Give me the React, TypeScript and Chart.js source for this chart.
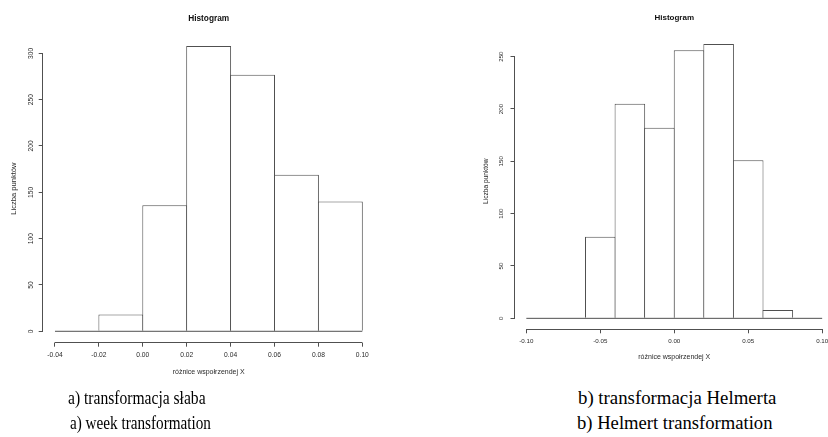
import React, { useEffect, useRef } from "react";
import { Chart, registerables } from "chart.js";

Chart.register(...registerables);

// ---------- data ----------
const leftBreaks = [-0.04, -0.02, 0.0, 0.02, 0.04, 0.06, 0.08, 0.1];
const leftCounts = [0, 18, 136, 308, 277, 169, 140];
const leftXTicks = [-0.04, -0.02, 0.0, 0.02, 0.04, 0.06, 0.08, 0.1];
const leftYTicks = [0, 50, 100, 150, 200, 250, 300];

const rightBreaks = [-0.1, -0.08, -0.06, -0.04, -0.02, 0.0, 0.02, 0.04, 0.06, 0.08, 0.1];
const rightCounts = [0, 0, 78, 205, 182, 256, 262, 151, 8, 0];
const rightXTicks = [-0.1, -0.05, 0.0, 0.05, 0.1];
const rightYTicks = [0, 50, 100, 150, 200, 250];

const chartTitle = "Histogram";
const xAxisTitle = "różnice wspołrzendej X";
const yAxisTitle = "Liczba punktów";

const captionsLeft = ["a) transformacja słaba", "a) week transformation"];
const captionsRight = ["b) transformacja Helmerta", "b) Helmert transformation"];

// ---------- style ----------
const LINE = "#505050";
const TEXT = "#2a2a2a";
const SANS = "'Liberation Sans', Arial, sans-serif";

type Area = { left: number; right: number; top: number; bottom: number };
type HistProps = {
  breaks: number[];
  counts: number[];
  xTicks: number[];
  yTicks: number[];
  width: number;
  height: number;
  area: Area;
  titleSize: number;
  titleCenterY: number;
  tickSize: number;
  xTitleSize: number;
  yTitleSize: number;
  xTickCenterY: number;
  yTickCenterX: number;
  xTitleCenterY: number;
  yTitleCenterX: number;
  left: number;
};

const axisLinesPlugin = {
  id: "rAxisLines",
  afterDraw(chart: any, _args: any, opts: any) {
    const { ctx, chartArea } = chart;
    const xs = chart.scales.x;
    const ys = chart.scales.y;
    const align = (p: number) => Math.round(p - 0.5) + 0.5;
    const xt = opts.xTicks as number[];
    const yt = opts.yTicks as number[];
    ctx.save();
    ctx.strokeStyle = LINE;
    ctx.lineWidth = 1;
    ctx.beginPath();
    const yb = align(chartArea.bottom);
    ctx.moveTo(align(xs.getPixelForValue(xt[0])), yb);
    ctx.lineTo(align(xs.getPixelForValue(xt[xt.length - 1])), yb);
    const xl = align(chartArea.left);
    ctx.moveTo(xl, align(ys.getPixelForValue(yt[0])));
    ctx.lineTo(xl, align(ys.getPixelForValue(yt[yt.length - 1])));
    ctx.stroke();
    ctx.restore();
  },
};

function Histogram(p: HistProps) {
  const ref = useRef<HTMLCanvasElement | null>(null);
  useEffect(() => {
    if (!ref.current) return;
    const { breaks, counts, area } = p;
    const n = breaks.length - 1;
    const xr = breaks[n] - breaks[0];
    const xmin = breaks[0] - 0.04 * xr;
    const xmax = breaks[n] + 0.04 * xr;
    const ymaxData = Math.max(...counts);
    const ymin = -0.04 * ymaxData;
    const ymax = 1.04 * ymaxData;
    const binPx = ((area.right - area.left) * (breaks[1] - breaks[0])) / (xmax - xmin);

    const titleLH = p.titleSize * 1.2;
    const titlePadTop = p.titleCenterY - titleLH / 2;
    const titlePadBottom = area.top - titlePadTop - titleLH;

    const xLH = p.xTitleSize * 1.2;
    const yLH = p.yTitleSize * 1.2;
    const xScaleHeight = p.xTitleCenterY - area.bottom + xLH / 2;
    const tickLH = p.tickSize * 1.2;
    const xTickPad = p.xTickCenterY - area.bottom - 4 - tickLH / 2;
    const widest = p.tickSize * 0.556 * 3;
    const yTickPad = area.left - p.yTickCenterX - 4 - widest / 2;

    const chart = new Chart(ref.current, {
      type: "bar",
      data: {
        datasets: [
          {
            type: "line",
            data: [
              { x: breaks[0], y: 0 },
              { x: breaks[n], y: 0 },
            ],
            borderColor: LINE,
            borderWidth: 1,
            pointRadius: 0,
            fill: false,
            order: 0,
          } as any,
          {
            type: "bar",
            data: counts.map((c, i) => ({ x: (breaks[i] + breaks[i + 1]) / 2, y: c })),
            backgroundColor: "#ffffff",
            borderColor: LINE,
            borderWidth: 1,
            borderSkipped: "start",
            barPercentage: 1 + 1 / binPx,
            categoryPercentage: 1,
            inflateAmount: 0,
            order: 1,
          } as any,
        ],
      },
      options: {
        responsive: false,
        animation: false,
        devicePixelRatio: 1,
        layout: {
          padding: {
            left: 0,
            right: p.width - area.right,
            top: 0,
            bottom: p.height - area.bottom - xScaleHeight,
          },
        },
        plugins: {
          legend: { display: false },
          tooltip: { enabled: false },
          title: {
            display: true,
            text: chartTitle,
            color: "#111",
            fullSize: false,
            font: { family: SANS, size: p.titleSize, weight: "bold", lineHeight: 1.2 },
            padding: { top: titlePadTop, bottom: titlePadBottom },
          },
          rAxisLines: { xTicks: p.xTicks, yTicks: p.yTicks },
        } as any,
        scales: {
          x: {
            type: "linear",
            min: xmin,
            max: xmax,
            offset: false,
            afterBuildTicks: (s: any) => {
              s.ticks = p.xTicks.map((v) => ({ value: v }));
            },
            afterFit: (s: any) => {
              s.height = xScaleHeight;
            },
            ticks: {
              autoSkip: false,
              maxRotation: 0,
              minRotation: 0,
              padding: xTickPad,
              color: TEXT,
              font: { family: SANS, size: p.tickSize, lineHeight: 1.2 },
              callback: (v: any) => Number(v).toFixed(2),
            },
            grid: {
              display: true,
              offset: false,
              drawOnChartArea: false,
              drawTicks: true,
              tickLength: 4,
              color: LINE,
              lineWidth: 1,
            },
            border: { display: false },
            title: {
              display: true,
              text: xAxisTitle,
              color: TEXT,
              font: { family: SANS, size: p.xTitleSize, lineHeight: 1.2 },
              padding: { top: 0, bottom: 0 },
            },
          },
          y: {
            type: "linear",
            min: ymin,
            max: ymax,
            afterBuildTicks: (s: any) => {
              s.ticks = p.yTicks.map((v) => ({ value: v }));
            },
            afterFit: (s: any) => {
              s.width = area.left;
            },
            ticks: {
              autoSkip: false,
              minRotation: 90,
              maxRotation: 90,
              crossAlign: "center",
              padding: yTickPad,
              color: TEXT,
              font: { family: SANS, size: p.tickSize, lineHeight: 1.2 },
              callback: (v: any) => String(v),
            },
            grid: {
              display: true,
              drawOnChartArea: false,
              drawTicks: true,
              tickLength: 4,
              color: LINE,
              lineWidth: 1,
            },
            border: { display: false },
            title: {
              display: true,
              text: yAxisTitle,
              color: TEXT,
              font: { family: SANS, size: p.yTitleSize, lineHeight: 1.2 },
              padding: { top: p.yTitleCenterX - yLH / 2, bottom: 0 },
            },
          },
        },
      } as any,
      plugins: [axisLinesPlugin],
    });
    return () => chart.destroy();
  }, []);
  return (
    <canvas
      ref={ref}
      width={p.width}
      height={p.height}
      style={{ position: "absolute", left: p.left, top: 0, width: p.width, height: p.height, display: "block" }}
    />
  );
}

const captionStyle = (left: number, top: number, sx: number): React.CSSProperties => ({
  position: "absolute",
  left,
  top,
  fontFamily: "'Liberation Serif', 'Times New Roman', serif",
  fontSize: 19,
  lineHeight: "25px",
  color: "#000",
  whiteSpace: "nowrap",
  transform: `scaleX(${sx})`,
  transformOrigin: "left top",
});

export default function App() {
  return (
    <div
      style={{
        position: "absolute",
        left: 0,
        top: 0,
        width: 828,
        height: 437,
        overflow: "hidden",
        background: "#ffffff",
      }}
    >
      <Histogram
        left={0}
        width={414}
        height={395}
        breaks={leftBreaks}
        counts={leftCounts}
        xTicks={leftXTicks}
        yTicks={leftYTicks}
        area={{ left: 42.7, right: 374.6, top: 34.5, bottom: 342.7 }}
        titleSize={8.3}
        titleCenterY={18.3}
        tickSize={6.7}
        xTitleSize={7}
        yTitleSize={7.6}
        xTickCenterY={355}
        yTickCenterX={30.7}
        xTitleCenterY={372}
        yTitleCenterX={14}
      />
      <Histogram
        left={414}
        width={440}
        height={380}
        breaks={rightBreaks}
        counts={rightCounts}
        xTicks={rightXTicks}
        yTicks={rightYTicks}
        area={{ left: 100.5, right: 420, top: 33.1, bottom: 329.3 }}
        titleSize={8}
        titleCenterY={17.3}
        tickSize={6.2}
        xTitleSize={7}
        yTitleSize={6.6}
        xTickCenterY={341.7}
        yTickCenterX={87.7}
        xTitleCenterY={356.7}
        yTitleCenterX={72}
      />
      <div style={captionStyle(68, 385, 0.82)}>{captionsLeft[0]}</div>
      <div style={captionStyle(70, 409.5, 0.8)}>{captionsLeft[1]}</div>
      <div style={captionStyle(578, 385, 0.99)}>{captionsRight[0]}</div>
      <div style={captionStyle(577, 409.5, 0.98)}>{captionsRight[1]}</div>
    </div>
  );
}
